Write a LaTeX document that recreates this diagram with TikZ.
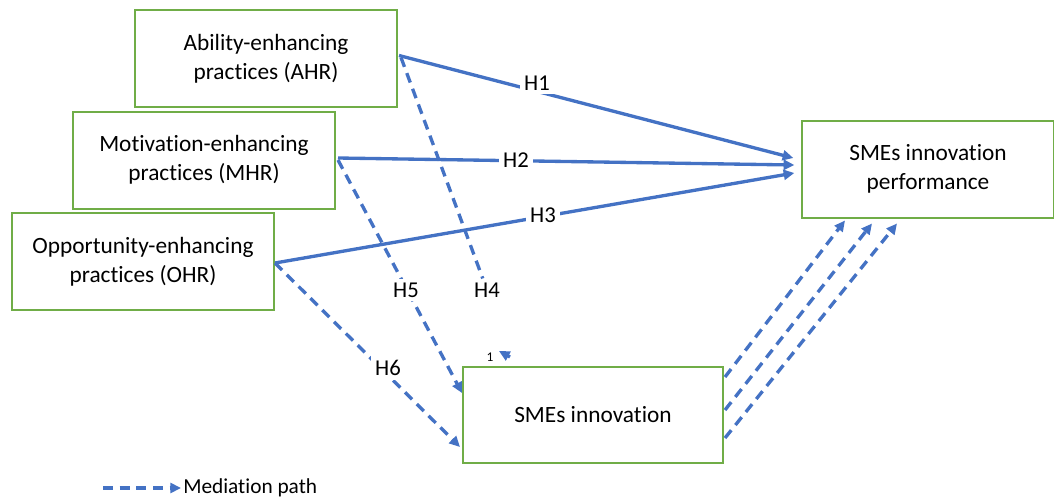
\documentclass[tikz,border=0pt]{standalone}
\usepackage{fontspec}
\setmainfont{Carlito}[RawFeature={-liga;-clig;-dlig;-calt}]
\usetikzlibrary{arrows.meta,calc}
\definecolor{lblue}{HTML}{4472C4}
\definecolor{lgreen}{HTML}{70AD47}
\begin{document}
\begin{tikzpicture}[x=0.75pt,y=-0.75pt,
  box/.style={draw=lgreen,line width=1.5pt,align=center,inner sep=0pt,
    font=\fontsize{17.5}{21.75}\selectfont,minimum height=72.75pt},
  conn/.style={draw=lblue,line width=2.5pt,-{Triangle[length=8pt,width=7.5pt]}},
  med/.style={conn,dash pattern=on 7.5pt off 5pt},
  meddash/.style={draw=lblue,line width=2.5pt,dash pattern=on 7.5pt off 5pt},
  hlab/.style={fill=white,inner sep=3pt,font=\fontsize{17}{20}\selectfont}]
\useasboundingbox (0,0) rectangle (1054,500);

\node[box,minimum width=196.5pt] (ahr) at (266,58.5) {Ability-enhancing\\practices (AHR)};
\node[box,minimum width=196.5pt] (mhr) at (204,160) {Motivation-enhancing\\practices (MHR)};
\node[box,minimum width=196.5pt] (ohr) at (143,261.5) {Opportunity-enhancing\\practices (OHR)};
\node[box,minimum width=188.5pt] (perf) at (928,169) {SMEs innovation\\performance};
\node[box,minimum width=195pt,minimum height=72pt] (inno) at (593,415) {SMEs innovation};

% anchor points
\coordinate (a1) at ($(ahr.east)+(1,-3)$);
\coordinate (a4) at ($(ahr.east)+(3,-1)$);
\coordinate (m2) at ($(mhr.east)+(2,-2)$);
\coordinate (m5) at ($(mhr.east)+(2,0)$);
\coordinate (o3) at ($(ohr.east)+(0,1.5)$);
\coordinate (p1) at ($(perf.west)+(-8,-11)$);
\coordinate (p2) at ($(perf.west)+(-7,-4)$);
\coordinate (p3) at ($(perf.west)+(-7,4)$);
\coordinate (i5) at ($(inno.west)+(0,-22)$);
\coordinate (i6) at ($(inno.west)+(-2,32)$);
\coordinate (ie1) at ($(inno.east)+(1,-38)$);
\coordinate (ie2) at ($(inno.east)+(1,-5)$);
\coordinate (ie3) at ($(inno.east)+(1,23)$);
\coordinate (pb1) at ($(perf.south)+(-83,2)$);
\coordinate (pb2) at ($(perf.south)+(-56,5)$);
\coordinate (pb3) at ($(perf.south)+(-31,5)$);
\coordinate (h4tail) at (510,357);
\coordinate (h4end) at (499,351);

% direct paths
\draw[conn] (a1) -- (p1);
\draw[conn] (m2) -- (p2);
\draw[conn] (o3) -- (p3);

% mediation paths
\node[hlab] (h4) at (487,290) {H4};
\draw[meddash] (a4) -- (h4);
\draw[conn] (h4tail) -- (h4end);
\draw[med] (m5) -- (i5);
\draw[med] (o3) -- (i6);
\draw[med] (ie1) -- (pb1);
\draw[med] (ie2) -- (pb2);
\draw[med] (ie3) -- (pb3);

% labels
\node[hlab] (h1) at (537,83) {H1};
\node[hlab] (h2) at (516,160) {H2};
\node[hlab] (h3) at (543,215) {H3};
\node[hlab] (h5) at (406,290) {H5};
\node[hlab] (h6) at (388,368) {H6};
\node[font=\fontsize{10}{11}\selectfont,inner sep=1pt] (one) at (490,357) {1};

% legend
\coordinate (lg1) at (103,488);
\coordinate (lg2) at (181,488);
\draw[med] (lg1) -- (lg2);
\node[anchor=west,inner sep=0pt,font=\fontsize{16}{19}\selectfont] (lgt) at (183,488) {Mediation path};
\end{tikzpicture}
\end{document}
